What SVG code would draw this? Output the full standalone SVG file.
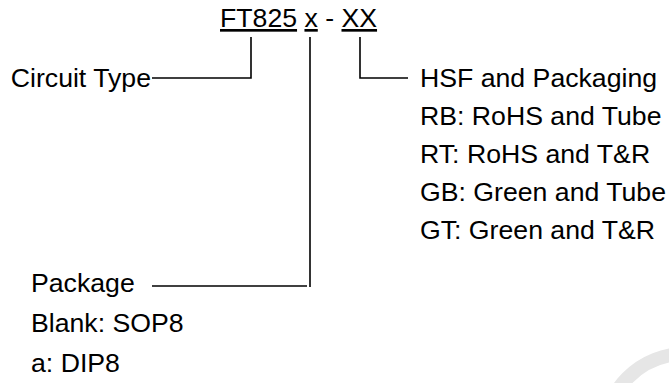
<svg xmlns="http://www.w3.org/2000/svg" width="669" height="383" viewBox="0 0 669 383">
<style>
text{font-family:"Liberation Sans",Arial,sans-serif;font-size:26.67px;fill:#000}
.u{text-decoration:underline}
.c{fill:none;stroke:#000;stroke-width:1.6}
</style>
<rect width="669" height="383" fill="#fff"/>
<circle cx="685" cy="435" r="81" fill="none" stroke="#e6e6e6" stroke-width="14"/>
<g id="title"><text x="220" y="27"><tspan class="u">FT825</tspan> <tspan class="u">x</tspan> - <tspan class="u">XX</tspan></text></g>
<g id="circuit-type"><text x="151" y="87" text-anchor="end">Circuit Type</text></g>
<g id="hsf"><text x="420" y="87">HSF and Packaging</text>
<text x="420" y="125">RB: RoHS and Tube</text>
<text x="420" y="163">RT: RoHS and T&amp;R</text>
<text x="420" y="201">GB: Green and Tube</text>
<text x="420" y="239">GT: Green and T&amp;R</text></g>
<g id="package"><text x="31" y="292">Package</text>
<text x="31" y="332">Blank: SOP8</text>
<text x="31" y="372">a: DIP8</text></g>
<g id="connectors">
<polyline class="c" points="251,37 251,78 152,78"/>
<line class="c" x1="310" y1="37" x2="310" y2="287"/>
<line class="c" x1="152" y1="286" x2="307" y2="286"/>
<polyline class="c" points="360,37 360,78 408,78"/>
</g>
</svg>
